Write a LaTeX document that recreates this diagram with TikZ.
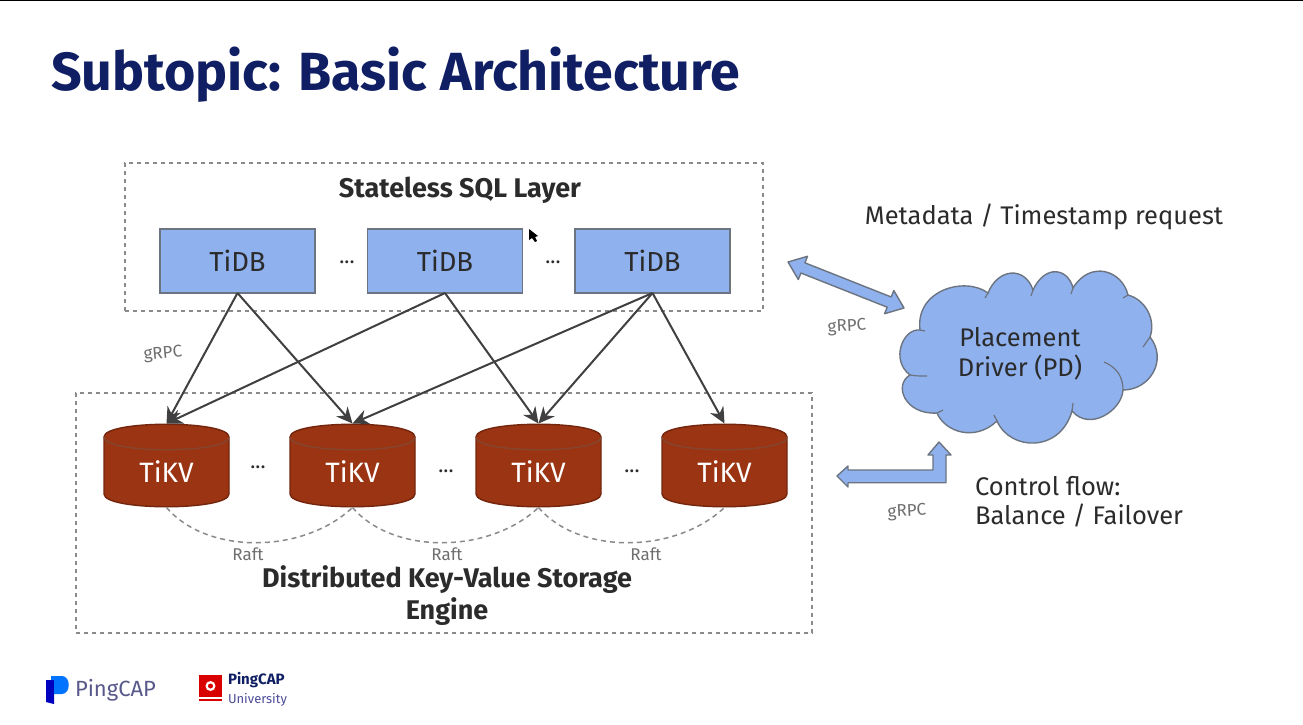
\documentclass[tikz,border=0pt]{standalone}
\usepackage{fontspec}
\setmainfont{Fira Sans}
\usetikzlibrary{arrows.meta}
\definecolor{navy}{HTML}{101F63}
\definecolor{ink}{HTML}{2B2B2B}
\definecolor{boxblue}{HTML}{8FB1EE}
\definecolor{boxedge}{HTML}{6B7480}
\definecolor{kvred}{HTML}{9A3412}
\definecolor{kvedge}{HTML}{74250D}
\definecolor{kvline}{HTML}{85452F}
\definecolor{dashgray}{HTML}{8A8A8A}
\definecolor{labelgray}{HTML}{6E6E6E}
\newcommand{\fs}[1]{\fontsize{#1}{#1}\selectfont}
\tikzset{
  x=1pt,y=-1pt,
  every node/.style={inner sep=0pt,outer sep=0pt,align=center,text=ink},
  layerbox/.style={draw=dashgray,line width=1.5pt,dash pattern=on 4pt off 4pt},
  tidbbox/.style={draw=boxedge,line width=1.2pt,fill=boxblue,minimum width=155pt,minimum height=64pt,font=\fs{27.5}},
  kvtext/.style={minimum width=125pt,minimum height=84pt,text=white,font=\fs{28}},
  flow/.style={draw=ink!90,line width=2pt,-{Stealth[length=16pt,width=15pt]}},
  blockarrow/.style={draw=boxedge,line width=1.4pt,fill=boxblue,line join=round},
  raftline/.style={draw=dashgray,line width=1.5pt,dash pattern=on 5pt off 4pt},
  smalllabel/.style={text=labelgray,font=\fs{17}},
  dots/.style={font=\fs{21}},
  heading/.style={font=\bfseries\fs{27}},
  bodytext/.style={font=\fs{25.5}},
}
\newcommand{\kvcyl}[2]{%
  \begin{scope}[shift={(#1,0)}]
    \path[fill=kvred,draw=kvedge,line width=1.4pt]
      (0,437) .. controls (0,420) and (125,420) .. (125,437)
      -- (125,494) .. controls (125,511) and (0,511) .. (0,494) -- cycle;
    \draw[kvline,line width=1.4pt] (0,437) .. controls (0,454) and (125,454) .. (125,437);
  \end{scope}
  \node[minimum width=125pt,minimum height=84pt] (#2) at (#1+62.5,465.5) {};
  \node[kvtext] at (#1+62.5,472) {TiKV};
}
\begin{document}
\begin{tikzpicture}
\useasboundingbox (0,0) rectangle (1303,725);
\fill[white] (0,0) rectangle (1303,725);
\fill[black] (0,0) rectangle (1303,1.5);

\node[anchor=west,text=navy,font=\bfseries\fs{53.7}] (title) at (51,75) {Subtopic: Basic Architecture};

% layers
\node[layerbox,minimum width=638pt,minimum height=148pt] (sql) at (444,237) {};
\node[layerbox,minimum width=736pt,minimum height=240pt] (kvlayer) at (444,513) {};
\node[heading] (sqltitle) at (460,190) {Stateless SQL Layer};
\node[heading] (kvtitle) at (447,595.5) {Distributed Key-Value Storage\\[3pt]Engine};

% TiDB
\node[tidbbox] (db1) at (237.5,261) {TiDB};
\node[tidbbox] (db2) at (445,261) {TiDB};
\node[tidbbox] (db3) at (652.5,261) {TiDB};
\node[dots] (d1) at (347,262) {...};
\node[dots] (d2) at (553,262) {...};

% cursor
\fill[black] (529,229) -- (529,240) -- (532,238) -- (535,242) -- (537,241) -- (535,237) -- (538,236) -- cycle;

% TiKV
\kvcyl{104}{kv1}
\kvcyl{290}{kv2}
\kvcyl{476}{kv3}
\kvcyl{662}{kv4}
\node[dots] (d3) at (258,467) {...};
\node[dots] (d4) at (446,471) {...};
\node[dots] (d5) at (632,471) {...};

% flows
\draw[flow] (db1.south) -- (kv1.north);
\draw[flow] (db1.south) -- (kv2.north);
\draw[flow] (db2.south) -- (kv1.north);
\draw[flow] (db2.south) -- (kv3.north);
\draw[flow] (db3.south) -- (kv2.north);
\draw[flow] (db3.south) -- (kv3.north);
\draw[flow] (db3.south) -- (kv4.north);
\node[smalllabel,rotate=5] (g1) at (163,354) {gRPC};

% raft
\draw[raftline] (kv1.south) .. controls +(40,47) and +(-50,47) .. (kv2.south);
\draw[raftline] (kv2.south) .. controls +(40,47) and +(-50,47) .. (kv3.south);
\draw[raftline] (kv3.south) .. controls +(40,47) and +(-50,47) .. (kv4.south);
\node[smalllabel] (r1) at (248,554) {Raft};
\node[smalllabel] (r2) at (447,554) {Raft};
\node[smalllabel] (r3) at (646,554) {Raft};

% cloud
\path[fill=boxblue,draw=boxedge,line width=1.4pt]
  (988,293)
  .. controls (998,268) and (1025,266) .. (1033,290)
  .. controls (1045,264) and (1068,268) .. (1073,288)
  .. controls (1090,260) and (1122,270) .. (1128,295)
  .. controls (1146,300) and (1156,320) .. (1150,337)
  .. controls (1168,360) and (1150,390) .. (1123,390)
  .. controls (1122,410) and (1090,432) .. (1072,411)
  .. controls (1060,453) and (1010,451) .. (997,421)
  .. controls (975,442) and (945,432) .. (937,413)
  .. controls (905,415) and (893,385) .. (910,375)
  .. controls (890,360) and (903,328) .. (920,330)
  .. controls (915,290) and (965,276) .. (988,293) -- cycle;
\draw[boxedge,line width=1.2pt]
  (988,293) -- (985,298)
  (1033,290) -- (1031,296)
  (1073,288) -- (1071,294)
  (1128,295) -- (1123,298)
  (1150,337) -- (1143,347)
  (1123,390) .. controls (1123,378) and (1118,368) .. (1104,362)
  (1072,411) -- (1073,403)
  (997,421) -- (994,415)
  (937,413) -- (943,410)
  (910,375) .. controls (915,376) and (920,376) .. (927,376)
  (920,330) -- (925,331);
\node[bodytext] (pd) at (1020,354) {Placement\\[4pt]Driver (PD)};

% block arrows
\path[blockarrow] (788,262) -- (807.5,256.3) -- (804.9,262.8) -- (891.2,297) -- (893.8,290.5)
  -- (904,308) -- (884.6,313.7) -- (887.2,307.2) -- (800.9,273) -- (798.3,279.5) -- cycle;
\path[blockarrow] (837,476) -- (848,466) -- (848,470) -- (933,470) -- (933,455) -- (928,455)
  -- (939,442) -- (951,455) -- (946,455) -- (946,482.7) -- (848,482.7) -- (848,487) -- cycle;
\node[smalllabel,rotate=3] (g2) at (847,327) {gRPC};
\node[smalllabel,rotate=3] (g3) at (907,512) {gRPC};

% side text
\node[bodytext] (meta) at (1044,217) {Metadata / Timestamp request};
\node[bodytext,anchor=west,align=left] (ctrl) at (975,502) {Control flow:\\[4pt]Balance / Failover};

% logos
\fill[blue!75!black] (46,680) -- (54,680) -- (54,704) -- (46,702) -- cycle;
\fill[blue!55!cyan] (51,676) -- (62,676) .. controls (71,676) and (71,694) .. (62,694) -- (54,694) -- (54,680) -- (51,680) -- cycle;
\node[anchor=west,text=labelgray!80!blue,font=\fs{22}] (pc) at (75,690) {PingCAP};
\fill[red!85!black] (199,675) rectangle (222,697);
\fill[red!85!black] (199,699) rectangle (222,701);
\fill[white] (210.5,686) circle (5);
\fill[red!85!black] (210.5,686) circle (2.5);
\node[anchor=west,text=navy,font=\bfseries\fs{15}] (pcu) at (228,680) {PingCAP};
\node[anchor=west,text=labelgray!70!blue,font=\fs{13}] (uni) at (228,700) {University};
\end{tikzpicture}
\end{document}
